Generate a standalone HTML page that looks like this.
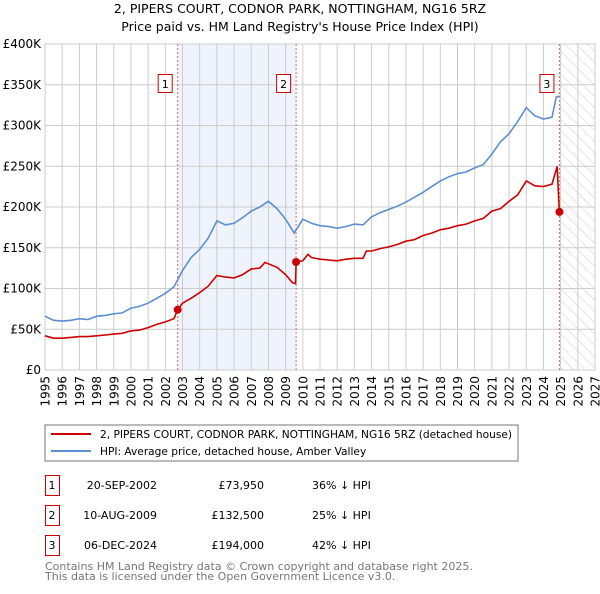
<!DOCTYPE html>
<html><head><meta charset="utf-8"><style>
body{margin:0;background:#fff;width:600px;height:590px;overflow:hidden;font-family:"DejaVu Sans","Liberation Sans",sans-serif}
svg text{font-family:"DejaVu Sans","Liberation Sans",sans-serif}
</style></head><body>
<svg id="c" width="600" height="590" viewBox="0 0 600 590">
<defs><pattern id="hatch" width="8" height="8" patternUnits="userSpaceOnUse" patternTransform="rotate(-45)"><line x1="0" y1="0" x2="0" y2="8" stroke="#ccc" stroke-width="1"/></pattern></defs>
<text x="300" y="13" text-anchor="middle" font-size="12.5">2, PIPERS COURT, CODNOR PARK, NOTTINGHAM, NG16 5RZ</text>
<text x="300" y="31" text-anchor="middle" font-size="12.5">Price paid vs. HM Land Registry's House Price Index (HPI)</text>
<g id="plot"></g>
<rect x="45" y="425" width="473" height="36" fill="#fff" stroke="#777"/>
<line x1="51" y1="434" x2="91" y2="434" stroke="#cc0000" stroke-width="2"/>
<text x="100" y="438" font-size="10.6">2, PIPERS COURT, CODNOR PARK, NOTTINGHAM, NG16 5RZ (detached house)</text>
<line x1="51" y1="451" x2="91" y2="451" stroke="#5b8fd0" stroke-width="2"/>
<text x="100" y="455" font-size="10.6">HPI: Average price, detached house, Amber Valley</text>
<g font-size="11">
<rect x="45.5" y="475.5" width="14" height="20" fill="none" stroke="#cc0000"/><text x="52" y="489" text-anchor="middle">1</text>
<text x="157" y="489" text-anchor="end">20-SEP-2002</text><text x="264" y="489" text-anchor="end">£73,950</text><text x="312" y="489">36% ↓ HPI</text>
<rect x="45.5" y="505.5" width="14" height="20" fill="none" stroke="#cc0000"/><text x="52" y="519" text-anchor="middle">2</text>
<text x="157" y="519" text-anchor="end">10-AUG-2009</text><text x="264" y="519" text-anchor="end">£132,500</text><text x="312" y="519">25% ↓ HPI</text>
<rect x="45.5" y="535.5" width="14" height="20" fill="none" stroke="#cc0000"/><text x="52" y="549" text-anchor="middle">3</text>
<text x="157" y="549" text-anchor="end">06-DEC-2024</text><text x="264" y="549" text-anchor="end">£194,000</text><text x="312" y="549">42% ↓ HPI</text>
</g>
<text x="45" y="570" font-size="11" fill="#777">Contains HM Land Registry data © Crown copyright and database right 2025.</text>
<text x="45" y="580" font-size="11" fill="#777">This data is licensed under the Open Government Licence v3.0.</text>
</svg>
<script>
const hpiYears=[1995,1995.5,1996,1996.5,1997,1997.5,1998,1998.5,1999,1999.5,2000,2000.5,2001,2001.5,2002,2002.5,2003,2003.5,2004,2004.5,2005,2005.5,2006,2006.5,2007,2007.5,2008,2008.5,2009,2009.5,2010,2010.5,2011,2011.5,2012,2012.5,2013,2013.5,2014,2014.5,2015,2015.5,2016,2016.5,2017,2017.5,2018,2018.5,2019,2019.5,2020,2020.5,2021,2021.5,2022,2022.5,2023,2023.5,2024,2024.5,2024.75,2024.92];
const hpiValues=[66,61,60,61,63,62,66,67,69,70,76,78,82,88,94,102,122,138,148,162,183,178,180,187,195,200,207,198,185,168,185,180,177,176,174,176,179,178,188,193,197,201,206,212,218,225,232,237,241,243,248,252,265,280,290,305,322,312,308,310,335,336];
const redYears=[1995,1995.5,1996,1996.5,1997,1997.5,1998,1998.5,1999,1999.5,2000,2000.5,2001,2001.5,2002,2002.5,2002.72,2003,2003.5,2004,2004.5,2005,2005.5,2006,2006.5,2007,2007.5,2007.8,2008.5,2009,2009.4,2009.58,2009.61,2010,2010.3,2010.5,2011,2011.5,2012,2012.5,2013,2013.5,2013.7,2014,2014.5,2015,2015.5,2016,2016.5,2017,2017.5,2018,2018.5,2019,2019.5,2020,2020.5,2021,2021.5,2022,2022.5,2023,2023.5,2024,2024.5,2024.8,2024.92];
const redValues=[42,39,39,40,41,41,42,43,44,45,48,49,52,56,59,63,74,82,88,95,103,116,114,113,117,124,125,132,126,117,107,106,132.5,134,142,138,136,135,134,136,137,137,146,146,149,151,154,158,160,165,168,172,174,177,179,183,186,195,198,207,215,232,226,225,228,250,194];
const sales=[[2002.72,73.95,"1"],[2009.61,132.5,"2"],[2024.93,194,"3"]];
const yTicks=[0,50,100,150,200,250,300,350,400];
const yTickLabels=["£0","£50K","£100K","£150K","£200K","£250K","£300K","£350K","£400K"];
const xTicks=[1995,1996,1997,1998,1999,2000,2001,2002,2003,2004,2005,2006,2007,2008,2009,2010,2011,2012,2013,2014,2015,2016,2017,2018,2019,2020,2021,2022,2023,2024,2025,2026,2027];
const X0=45,X1=595,Y0=370,Y1=44;
const xs=v=>X0+(v-1995)/(2027-1995)*(X1-X0);
const ys=v=>Y0-v/400*(Y0-Y1);
const NS="http://www.w3.org/2000/svg";
const g=document.getElementById('plot');
function mk(t,a){const e=document.createElementNS(NS,t);for(const k in a)e.setAttribute(k,a[k]);g.appendChild(e);return e;}
let e=mk('rect',{x:xs(sales[0][0]),y:Y1,width:xs(sales[1][0])-xs(sales[0][0]),height:Y0-Y1,fill:'#eef3fc'});


e=mk('rect',{x:xs(sales[2][0]),y:Y1,width:X1-xs(sales[2][0]),height:Y0-Y1,fill:'url(#hatch)'});


xTicks.forEach(t=>{const l=mk('line',{x1:xs(t),x2:xs(t),y1:Y1,y2:Y0,stroke:'#ccc'});


const tx=mk('text',{x:0,y:0,'font-size':12,'text-anchor':'end',transform:`translate(${xs(t)+4.5},${Y0+6}) rotate(-90)`});tx.textContent=t;

});
yTicks.forEach((t,i)=>{const l=mk('line',{x1:X0,x2:X1,y1:ys(t),y2:ys(t),stroke:'#ccc'});


const tx=mk('text',{x:X0-4,y:ys(t)+4,'font-size':12,'text-anchor':'end'});tx.textContent=yTickLabels[i];

});
e=mk('rect',{x:X0,y:Y1,width:X1-X0,height:Y0-Y1,fill:'none',stroke:'#ccc'});


sales.forEach(s=>{const l=mk('line',{x1:xs(s[0]),x2:xs(s[0]),y1:Y1,y2:Y0,stroke:'#e06666','stroke-dasharray':'2,2'});

});
const pts=(a,b)=>a.map((v,i)=>xs(v).toFixed(1)+','+ys(b[i]).toFixed(1)).join(' ');
e=mk('polyline',{points:pts(hpiYears,hpiValues),fill:'none',stroke:'#5b8fd0','stroke-width':1.6});


e=mk('polyline',{points:pts(redYears,redValues),fill:'none',stroke:'#cc0000','stroke-width':1.6});


sales.forEach(s=>{const c=mk('circle',{cx:xs(s[0]),cy:ys(s[1]),r:4,fill:'#cc0000'});


const r=mk('rect',{x:xs(s[0])-19.5,y:74.5,width:14,height:18,fill:'#fff',stroke:'#cc0000'});


const t=mk('text',{x:xs(s[0])-12.5,y:88,'font-size':11,'text-anchor':'middle'});t.textContent=s[2];

});
</script>
</body></html>
